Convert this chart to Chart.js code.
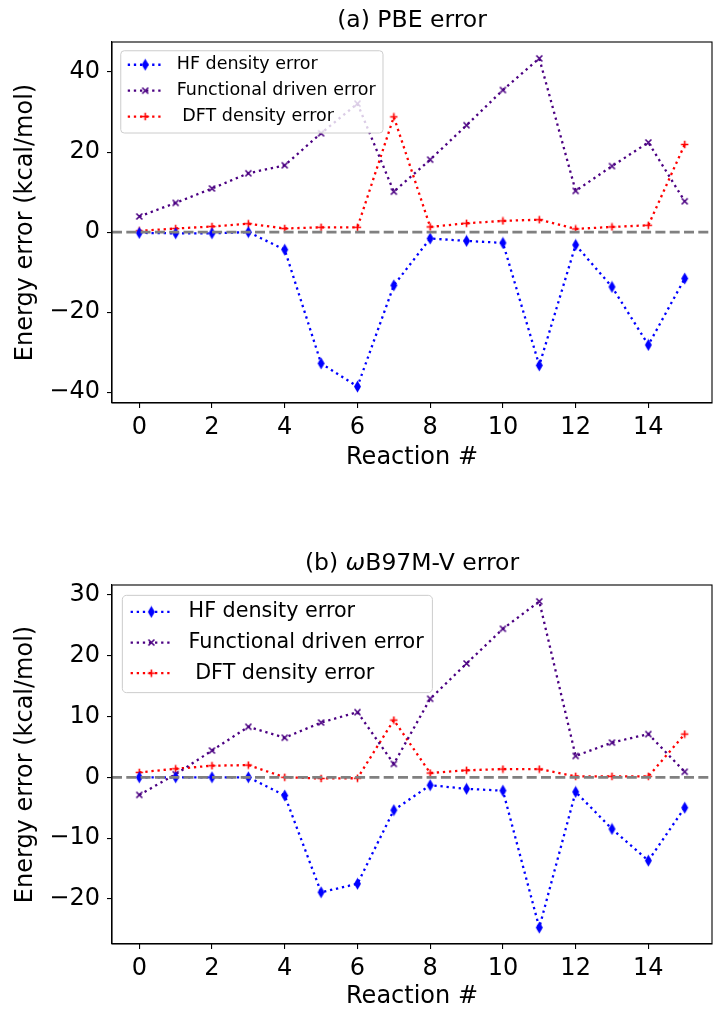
<!DOCTYPE html>
<html>
<head>
<meta charset="utf-8">
<script src="https://cdn.jsdelivr.net/npm/chart.js@4.4.1/dist/chart.umd.min.js"></script>
<style>
  html, body { margin: 0; padding: 0; background: #fff; overflow: hidden; }
  .panel { position: absolute; left: 0; width: 714px; height: 480px; }
</style>
</head>
<body>
<div class="panel" style="top:0px"><canvas id="pbe-chart"></canvas></div>
<div class="panel" style="top:543px"><canvas id="wb-chart"></canvas></div>
<script>
// reaction index on the x axis
const reactions = [0, 1, 2, 3, 4, 5, 6, 7, 8, 9, 10, 11, 12, 13, 14, 15];
const xTicks = [0, 2, 4, 6, 8, 10, 12, 14];

// (a) PBE
const pbeTicks = [-40, -20, 0, 20, 40];
const pbeHF   = [-0.2, -0.3, -0.3, 0.0, -4.4, -32.8, -38.6, -13.3, -1.6, -2.2, -2.7, -33.3, -3.2, -13.7, -28.2, -11.6];
const pbeFunc = [3.9, 7.3, 10.9, 14.7, 16.7, 24.7, 32.1, 10.1, 18.1, 26.7, 35.5, 43.4, 10.3, 16.5, 22.4, 7.7];
const pbeDFT  = [0.3, 0.9, 1.4, 2.1, 0.9, 1.2, 1.2, 28.8, 1.3, 2.2, 2.8, 3.1, 0.8, 1.3, 1.7, 21.9];

// (b) wB97M-V
const wbTicks = [-20, -10, 0, 10, 20, 30];
const wbHF   = [0.0, 0.0, 0.0, 0.0, -3.0, -18.9, -17.5, -5.4, -1.3, -1.9, -2.2, -24.7, -2.4, -8.5, -13.7, -5.0];
const wbFunc = [-2.9, 0.5, 4.4, 8.3, 6.5, 9.0, 10.7, 2.2, 12.9, 18.7, 24.4, 28.9, 3.5, 5.7, 7.1, 0.9];
const wbDFT  = [0.8, 1.4, 1.9, 2.0, 0.0, -0.2, -0.15, 9.4, 0.7, 1.15, 1.35, 1.35, 0.15, 0.15, 0.15, 7.1];

const seriesLabels = ['HF density error', 'Functional driven error', ' DFT density error'];

const FONT = '"DejaVu Sans", sans-serif';
const BLUE = '#0000ff';
const INDIGO = '#4b0082';
const RED = '#ff0000';

// marker images
function makeMarker(kind, color) {
    const c = document.createElement('canvas');
    const ctx = c.getContext('2d');
    if (kind === 'diamond') {
        c.width = 9; c.height = 13;
        ctx.fillStyle = color;
        ctx.beginPath();
        ctx.moveTo(4.5, 0.5);
        ctx.lineTo(8, 6.5);
        ctx.lineTo(4.5, 12.5);
        ctx.lineTo(1, 6.5);
        ctx.closePath();
        ctx.fill();
    } else {
        c.width = 9; c.height = 9;
        ctx.strokeStyle = color;
        ctx.lineWidth = 1.6;
        ctx.beginPath();
        if (kind === 'x') {
            ctx.moveTo(1.5, 1.5); ctx.lineTo(7.5, 7.5);
            ctx.moveTo(7.5, 1.5); ctx.lineTo(1.5, 7.5);
        } else {
            ctx.moveTo(4.5, 0.8); ctx.lineTo(4.5, 8.2);
            ctx.moveTo(0.8, 4.5); ctx.lineTo(8.2, 4.5);
        }
        ctx.stroke();
    }
    return c;
}
const markers = [makeMarker('diamond', BLUE), makeMarker('x', INDIGO), makeMarker('plus', RED)];
const colors = [BLUE, INDIGO, RED];

function series(values, i) {
    return {
        label: seriesLabels[i],
        data: reactions.map((r, k) => ({ x: r, y: values[k] })),
        borderColor: colors[i],
        backgroundColor: colors[i],
        borderWidth: 2.3,
        borderDash: [2.3, 3.8],
        borderCapStyle: 'butt',
        pointStyle: markers[i],
        // small radius keeps chart.js from padding the chart area; the image is drawn at full size
        pointRadius: 1,
        pointBorderWidth: 0,
        pointHoverRadius: 1,
        tension: 0,
        fill: false
    };
}

function fmt(v) {
    return v < 0 ? '\u2212' + Math.abs(v) : String(v);
}

// zero line, box, title and inset legend
const decorations = {
    id: 'decorations',
    afterDatasetsDraw(chart) {
        const { ctx, chartArea } = chart;
        const y0 = chart.scales.y.getPixelForValue(0);
        ctx.save();
        ctx.strokeStyle = '#808080';
        ctx.lineWidth = 2.7;
        ctx.setLineDash([10, 4.3]);
        ctx.beginPath();
        ctx.moveTo(chartArea.left, y0);
        ctx.lineTo(chartArea.right, y0);
        ctx.stroke();
        ctx.restore();
    },
    afterDraw(chart, args, opts) {
        const { ctx, chartArea } = chart;
        ctx.save();
        // axes box
        ctx.strokeStyle = '#000';
        ctx.lineWidth = 1.1;
        ctx.strokeRect(chartArea.left, chartArea.top, chartArea.right - chartArea.left, chartArea.bottom - chartArea.top);

        // title, centred on the axes
        const parts = opts.title;
        let total = 0;
        parts.forEach(p => {
            ctx.font = (p.italic ? 'italic ' : '') + opts.titleSize + 'px ' + FONT;
            p.w = ctx.measureText(p.t).width;
            total += p.w;
        });
        let tx = (chartArea.left + chartArea.right) / 2 - total / 2;
        ctx.fillStyle = '#000';
        ctx.textBaseline = 'middle';
        ctx.textAlign = 'left';
        parts.forEach(p => {
            ctx.font = (p.italic ? 'italic ' : '') + opts.titleSize + 'px ' + FONT;
            ctx.fillText(p.t, tx, opts.titleY);
            tx += p.w;
        });

        // legend inside the axes, upper left
        const fs = opts.legendSize;
        ctx.font = fs + 'px ' + FONT;
        const sets = chart.data.datasets;
        const maxW = Math.max(...sets.map(d => ctx.measureText(d.label).width));
        const bx = chartArea.left + 0.5 * fs;
        const by = chartArea.top + 0.5 * fs;
        const hx = bx + 0.4 * fs;
        const textX = hx + 2 * fs + 0.8 * fs;
        const bw = textX - bx + maxW + 0.42 * fs;
        const bh = 4.7 * fs;
        const r = 0.2 * fs;
        ctx.beginPath();
        ctx.moveTo(bx + r, by);
        ctx.arcTo(bx + bw, by, bx + bw, by + bh, r);
        ctx.arcTo(bx + bw, by + bh, bx, by + bh, r);
        ctx.arcTo(bx, by + bh, bx, by, r);
        ctx.arcTo(bx, by, bx + bw, by, r);
        ctx.closePath();
        ctx.fillStyle = 'rgba(255,255,255,0.8)';
        ctx.fill();
        ctx.strokeStyle = '#cccccc';
        ctx.lineWidth = 1;
        ctx.stroke();

        sets.forEach((d, i) => {
            const ry = by + 0.8 * fs + i * 1.48 * fs;
            ctx.strokeStyle = d.borderColor;
            ctx.lineWidth = d.borderWidth;
            ctx.setLineDash(d.borderDash);
            ctx.lineCap = 'butt';
            ctx.beginPath();
            ctx.moveTo(hx, ry);
            ctx.lineTo(hx + 2 * fs, ry);
            ctx.stroke();
            ctx.setLineDash([]);
            const img = d.pointStyle;
            ctx.drawImage(img, hx + fs - img.width / 2, ry - img.height / 2);
            ctx.fillStyle = '#000';
            ctx.textBaseline = 'middle';
            ctx.fillText(d.label, textX, ry);
        });
        ctx.restore();
    }
};

function makeChart(id, hf, func, dft, yTicks, yMin, yMax, cfg) {
    return new Chart(document.getElementById(id), {
        type: 'line',
        data: { datasets: [series(hf, 0), series(func, 1), series(dft, 2)] },
        plugins: [decorations],
        options: {
            responsive: true,
            maintainAspectRatio: false,
            animation: false,
            layout: { padding: { top: 42, right: 2, left: 0, bottom: 0 } },
            plugins: {
                legend: { display: false },
                tooltip: { enabled: false },
                decorations: { title: cfg.title, titleSize: 23.5, titleY: cfg.titleY, legendSize: cfg.legendSize }
            },
            scales: {
                x: {
                    type: 'linear',
                    min: -0.75,
                    max: 15.75,
                    afterBuildTicks: s => { s.ticks = xTicks.map(v => ({ value: v })); },
                    afterFit: s => { s.height = cfg.xHeight; s.paddingLeft = 0; s.paddingRight = 0; },
                    grid: { drawOnChartArea: false, drawTicks: true, tickLength: 5, color: '#000', lineWidth: 1.1 },
                    border: { display: true, color: '#000', width: 1.1 },
                    ticks: { font: { family: FONT, size: 24 }, color: '#000', padding: 5, maxRotation: 0, callback: v => fmt(v) },
                    title: { display: true, text: 'Reaction #', font: { family: FONT, size: 24 }, color: '#000', padding: { top: 0, bottom: cfg.xTitlePad } }
                },
                y: {
                    min: yMin,
                    max: yMax,
                    afterBuildTicks: s => { s.ticks = yTicks.map(v => ({ value: v })); },
                    afterFit: s => { s.width = 112; s.paddingTop = 0; s.paddingBottom = 0; },
                    grid: { drawOnChartArea: false, drawTicks: true, tickLength: 5, color: '#000', lineWidth: 1.1 },
                    border: { display: true, color: '#000', width: 1.1 },
                    ticks: { font: { family: FONT, size: 24 }, color: '#000', padding: 7, callback: v => fmt(v) },
                    title: { display: true, text: 'Energy error (kcal/mol)', font: { family: FONT, size: 24 }, color: '#000', padding: { top: 11.6, bottom: 0 } }
                }
            }
        }
    });
}

makeChart('pbe-chart', pbeHF, pbeFunc, pbeDFT, pbeTicks, -42.7, 47.5, {
    title: [{ t: '(a) PBE error' }],
    titleY: 21,
    legendSize: 17.5,
    xHeight: 77,
    xTitlePad: 7.6
});

makeChart('wb-chart', wbHF, wbFunc, wbDFT, wbTicks, -27.4, 31.6, {
    title: [{ t: '(b) ' }, { t: '\u03c9', italic: true }, { t: 'B97M-V error' }],
    titleY: 21,
    legendSize: 20.7,
    xHeight: 79,
    xTitlePad: 11.6
});
</script>
</body>
</html>
